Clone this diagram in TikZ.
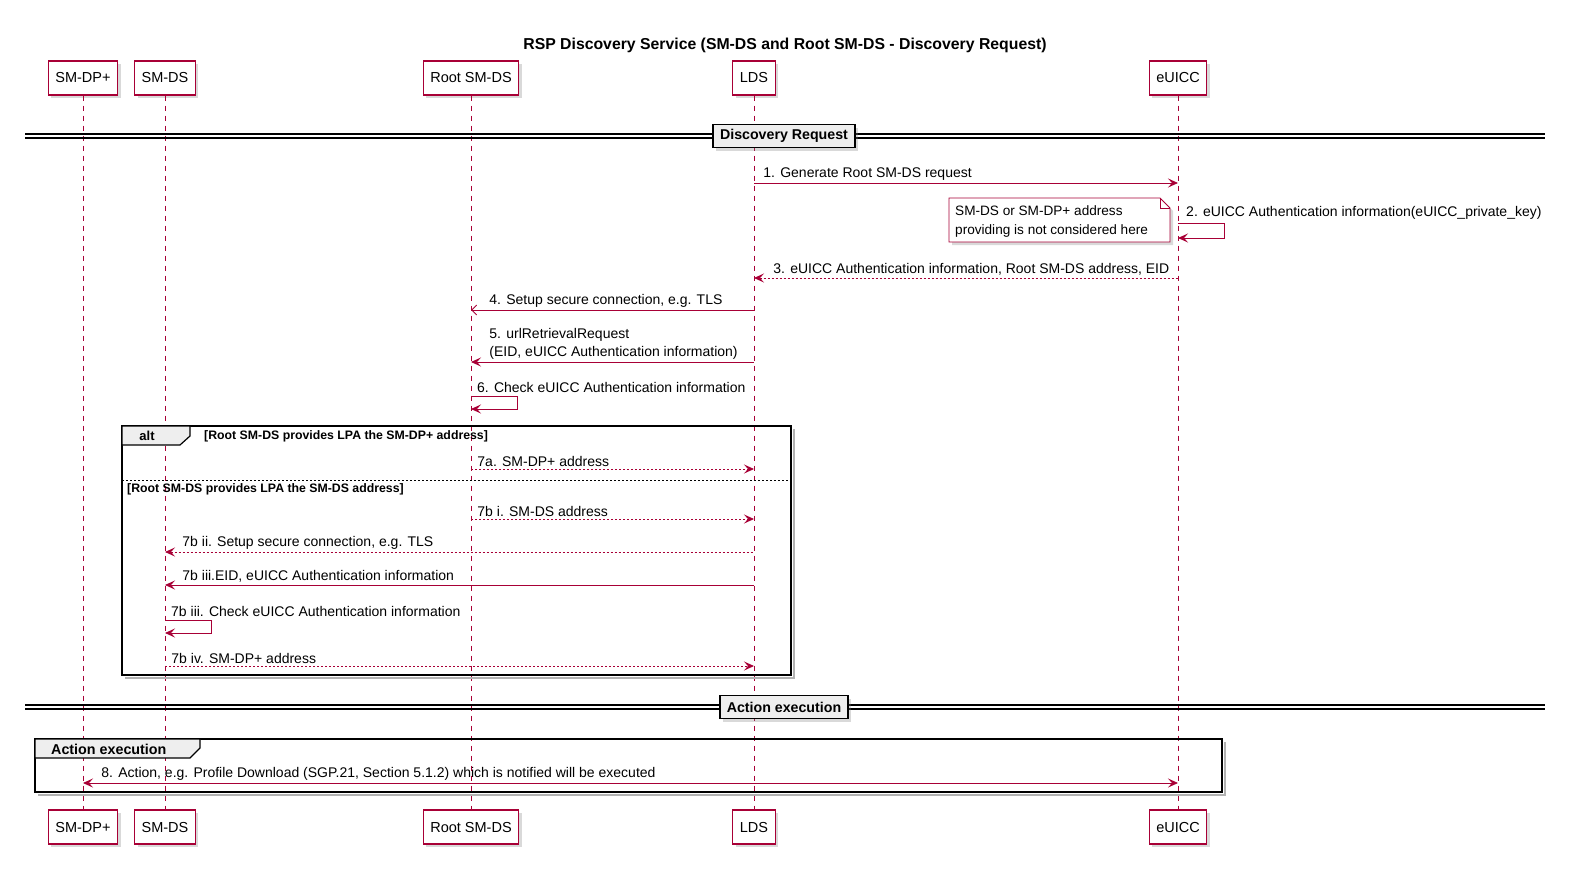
\documentclass[tikz,border=0pt]{standalone}
\usepackage{fontspec}
\setmainfont{Liberation Sans}
\usetikzlibrary{arrows.meta,shadows}
\definecolor{plum}{HTML}{A80036}
\definecolor{hdr}{HTML}{EEEEEE}
\tikzset{
  party/.style={draw=plum,fill=white,line width=1.1pt,minimum height=34pt,inner xsep=7pt,
    font=\fontsize{14.5}{17}\selectfont,drop shadow={shadow xshift=3pt,shadow yshift=-3pt,opacity=.3}},
  life/.style={draw=plum,dash pattern=on 5pt off 5pt,line width=.7pt},
  msg/.style={draw=plum,line width=.9pt,->},
  back/.style={draw=plum,line width=.9pt,<-},
  dots/.style={dash pattern=on 2pt off 2pt},
  lbl/.style={font=\fontsize{14}{16}\selectfont,anchor=south west,inner xsep=0pt,inner ysep=2pt},
  guard/.style={font=\bfseries\fontsize{12.3}{14}\selectfont,anchor=west,inner sep=0pt},
  frame/.style={draw=black,line width=1.8pt},
  shade/.style={draw=black!30,line width=2.5pt},
  tab/.style={draw=black,fill=hdr,line width=1.2pt},
  divider/.style={draw=black,fill=hdr,line width=1.5pt,font=\bfseries\fontsize{14.2}{16}\selectfont,
    minimum height=23pt,inner xsep=7pt,drop shadow={shadow xshift=3pt,shadow yshift=-3pt,opacity=.3}},
  >={Stealth[length=10pt,width=9pt,inset=4pt]}
}
\begin{document}
\begin{tikzpicture}[x=1pt,y=-1pt]
  \useasboundingbox (0,0) rectangle (1570,880);
  \node[font=\bfseries\fontsize{15.8}{18}\selectfont] (title) at (785,45) {RSP Discovery Service (SM-DS and Root SM-DS - Discovery Request)};

  % participants
  \node[party] (dp) at (83,78) {SM-DP+};
  \node[party] (ds) at (165,78) {SM-DS};
  \node[party] (root) at (471,78) {Root SM-DS};
  \node[party] (lds) at (754,78) {LDS};
  \node[party] (eu) at (1178,78) {eUICC};
  \node[party] (dp2) at (83,827) {SM-DP+};
  \node[party] (ds2) at (165,827) {SM-DS};
  \node[party] (root2) at (471,827) {Root SM-DS};
  \node[party] (lds2) at (754,827) {LDS};
  \node[party] (eu2) at (1178,827) {eUICC};
  \foreach \a in {dp,ds,root,lds,eu}
    \draw[life] (\a) -- (\a2);

  % Discovery Request
  \draw[line width=1.2pt] (25,134) -- (1545,134) (25,138) -- (1545,138);
  \node[divider] (sec1) at (784,136) {Discovery Request};

  \draw[msg] (lds |- 0,183) -- (eu |- 0,183) node[lbl,at start,xshift=9pt] (m1) {1. Generate Root SM-DS request};
  \draw[msg] (eu |- 0,223) -- ++(46,0) -- ++(0,15) -- (eu |- 0,238);
  \node[lbl] (m2) at ([xshift=8pt] eu |- 0,222) {2. eUICC Authentication information(eUICC\_private\_key)};
  \draw[plum,fill=white,line width=.9pt,drop shadow={shadow xshift=3pt,shadow yshift=-3pt,opacity=.3}]
    (949,198) -- (1160,198) -- (1170,208) -- (1170,242) -- (949,242) -- cycle;
  \draw[plum,line width=.9pt] (1160,198) -- (1160,208) -- (1170,208);
  \node[font=\fontsize{13.6}{19}\selectfont,align=left,anchor=west,inner sep=0pt] (note) at (955,221)
    {SM-DS or SM-DP+ address\\providing is not considered here};
  \draw[back,dots] (lds |- 0,278) -- (eu |- 0,278) node[lbl,at start,xshift=19pt] (m3) {3. eUICC Authentication information, Root SM-DS address, EID};
  \draw[draw=plum,line width=.9pt,{Straight Barb[length=5pt,width=10pt]}-] (root |- 0,310) -- (lds |- 0,310)
    node[lbl,at start,xshift=18pt] (m4) {4. Setup secure connection, e.g. TLS};
  \draw[back] (root |- 0,362) -- (lds |- 0,362)
    node[lbl,at start,xshift=18pt,align=left,font=\fontsize{14}{18}\selectfont] (m5) {5. urlRetrievalRequest\\(EID, eUICC Authentication information)};
  \draw[msg] (root |- 0,396) -- ++(46,0) -- ++(0,13) -- (root |- 0,409);
  \node[lbl] (m6) at ([xshift=6pt] root |- 0,395) {6. Check eUICC Authentication information};

  % alt
  \draw[shade] (794,429) -- (794,678) -- (125,678);
  \draw[frame] (122,426) rectangle (791,675);
  \draw[tab] (122,426) -- (190,426) -- (190,436) -- (180,445) -- (122,445) -- cycle;
  \node[font=\bfseries\fontsize{13}{15}\selectfont] (alt) at (147,436) {alt};
  \node[guard] (g1) at (204,436) {[Root SM-DS provides LPA the SM-DP+ address]};
  \draw[line width=.9pt,dots] (122,480) -- (791,480);
  \node[guard] (g2) at (127,489) {[Root SM-DS provides LPA the SM-DS address]};
  \draw[msg,dots] (root |- 0,469) -- (lds |- 0,469) node[lbl,at start,xshift=6pt] (m7a) {7a. SM-DP+ address};
  \draw[msg,dots] (root |- 0,519) -- (lds |- 0,519) node[lbl,at start,xshift=6pt] (m7bi) {7b i. SM-DS address};
  \draw[back,dots] (ds |- 0,552) -- (lds |- 0,552) node[lbl,at start,xshift=17pt] (m7bii) {7b ii. Setup secure connection, e.g. TLS};
  \draw[back] (ds |- 0,585) -- (lds |- 0,585) node[lbl,at start,xshift=17pt] (m7biii) {7b iii.EID, eUICC Authentication information};
  \draw[msg] (ds |- 0,620) -- ++(46,0) -- ++(0,13) -- (ds |- 0,633);
  \node[lbl] (m7bc) at ([xshift=6pt] ds |- 0,619) {7b iii. Check eUICC Authentication information};
  \draw[msg,dots] (ds |- 0,666) -- (lds |- 0,666) node[lbl,at start,xshift=6pt] (m7biv) {7b iv. SM-DP+ address};

  % Action execution
  \draw[line width=1.2pt] (25,705) -- (1545,705) (25,709) -- (1545,709);
  \node[divider] (sec2) at (784,707) {Action execution};
  \draw[shade] (1225,742) -- (1225,795) -- (38,795);
  \draw[frame] (35,739) rectangle (1222,792);
  \draw[tab] (35,739) -- (200,739) -- (200,748) -- (190,758) -- (35,758) -- cycle;
  \node[guard,font=\bfseries\fontsize{14.3}{16}\selectfont] (act) at (51,749) {Action execution};
  \draw[msg,<->] (dp |- 0,783) -- (eu |- 0,783)
    node[lbl,at start,xshift=18pt] (m8) {8. Action, e.g. Profile Download (SGP.21, Section 5.1.2) which is notified will be executed};
\end{tikzpicture}
\end{document}
